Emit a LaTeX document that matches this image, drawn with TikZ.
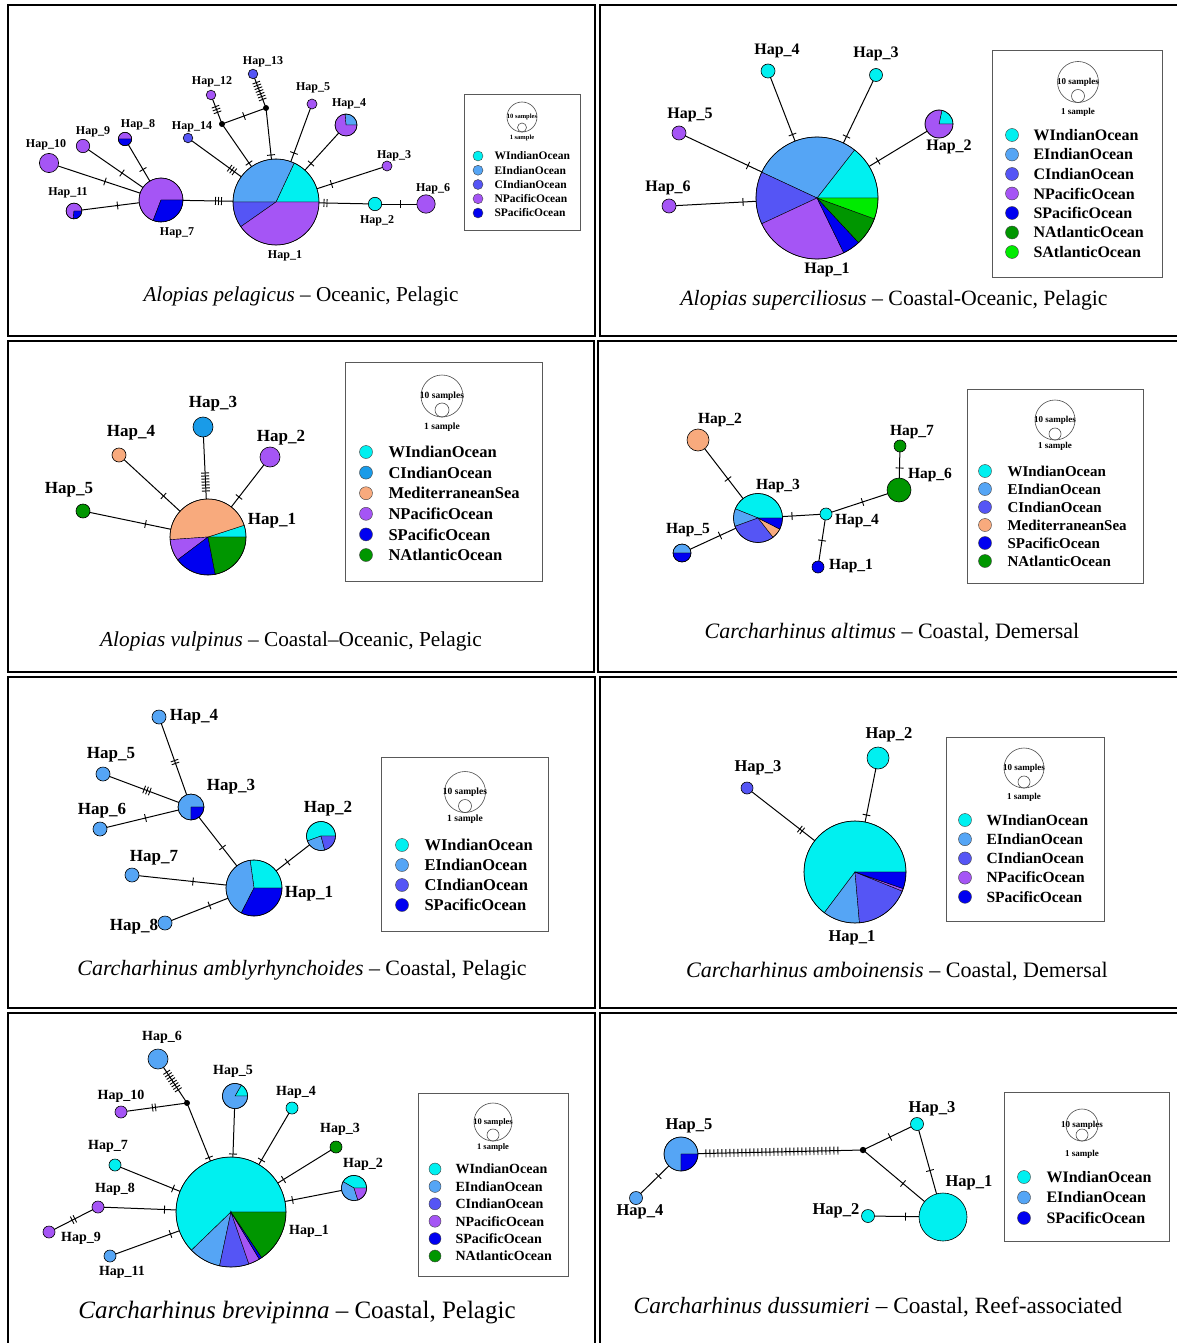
\documentclass[tikz,border=0pt]{standalone}
\usepackage{fontspec}
\setmainfont{Liberation Serif}
\usetikzlibrary{decorations.markings}

\definecolor{wio}{RGB}{0,240,240}
\definecolor{eio}{RGB}{85,165,245}
\definecolor{cio}{RGB}{85,85,245}
\definecolor{cioB}{RGB}{25,155,232}
\definecolor{npo}{RGB}{165,85,245}
\definecolor{spo}{RGB}{0,0,240}
\definecolor{nao}{RGB}{0,150,0}
\definecolor{sao}{RGB}{0,235,0}
\definecolor{med}{RGB}{248,170,125}

\newcommand{\fsz}[1]{\bfseries\fontsize{#1}{#1}\selectfont}
\newcommand{\csz}[1]{\fontsize{#1}{#1}\selectfont}
% pie chart: coordinate, radius, slices from/to/colour (anticlockwise from east)
\newcommand{\hapie}[3]{%
  \foreach \a/\b/\c in {#3}{%
    \filldraw[fill=\c, draw=black, line width=.4pt] (#1) -- ++({-\a}:#2) arc[start angle={-\a}, end angle={-\b}, radius=#2] -- cycle;}
  \draw[line width=.6pt] (#1) circle[radius=#2];}
\newcommand{\hapc}[3]{\filldraw[fill=#3, draw=black, line width=.6pt] (#1) circle[radius=#2];}
% legend: prefix, dot x, text x, first y, step, colour/text list
\newcommand{\haplegend}[6]{%
  \foreach \c/\t [count=\k] in {#6}{%
    \filldraw[fill=\c, draw=black!75, line width=.4pt] (#2,{#4+(\k-1)*#5}) circle[radius=\legr];
    \node[leg, anchor=west] (#1\k) at (#3,{#4+(\k-1)*#5}) {\t};}}
% size key: prefix, x, y, big radius, small radius, y of "1 sample"
\newcommand{\sizekey}[6]{%
  \draw[keyline] (#2,#3) circle[radius=#4];
  \draw[keyline] (#2,{#3+#4-#5}) circle[radius=#5];
  \node[keyf] (#1ten) at (#2,#3) {10 samples};
  \node[keyf] (#1one) at (#2,#6) {1 sample};}

\tikzset{
  edge/.style={line width=1pt},
  tk/.style={postaction={decorate,decoration={markings,mark=at position .5 with {\foreach \k in {1,...,#1}{\draw[line width=.9pt] ({(\k-(#1+1)/2)*3pt},-4pt) -- ++(0,8pt);}}}}},
  tk/.default=1,
  hatch/.style 2 args={postaction={decorate,decoration={markings,mark=between positions #1 and #2 step 4pt with {\draw[line width=.9pt] (0,-4pt) -- (0,4pt);}}}},
  mvdot/.style={fill=black},
  panel/.style={draw=black, line width=1.6pt},
  legbox/.style={draw=black!65, line width=.8pt},
  keyline/.style={draw=black!70, line width=.6pt},
  lbl/.style={font=\fsz{16}, inner sep=0pt},
  leg/.style={font=\fsz{16}, inner sep=0pt},
  keyf/.style={font=\fsz{9}, inner sep=0pt},
  captxt/.style={font=\csz{21}, inner sep=0pt},
}

\begin{document}
\begin{tikzpicture}[x=1pt, y=-1pt]
\useasboundingbox (0,0) rectangle (1177,1343);
\fill[white] (0,0) rectangle (1177,1343);

% frames
\draw[panel] (8,5) rectangle (595,336);
\draw[panel] (600,5) rectangle (1190,336);
\draw[panel] (8,341) rectangle (594,672);
\draw[panel] (598,341) rectangle (1190,672);
\draw[panel] (8,677) rectangle (595,1008);
\draw[panel] (600,677) rectangle (1190,1008);
\draw[panel] (8,1013) rectangle (595,1350);
\draw[panel] (600,1013) rectangle (1190,1350);

% Alopias pelagicus
\begin{scope}[lbl/.style={font=\fsz{12}}, leg/.style={font=\fsz{11.5}}, keyf/.style={font=\fsz{6.5}}]
\def\legr{5}
\coordinate (p1h1) at (276,202);
\coordinate (p1h2) at (375,204);
\coordinate (p1h3) at (387,166);
\coordinate (p1h4) at (346,125);
\coordinate (p1h5) at (312,104);
\coordinate (p1h6) at (426,204);
\coordinate (p1h7) at (161,200);
\coordinate (p1h8) at (125,139);
\coordinate (p1h9) at (83,146);
\coordinate (p1h10) at (49,163);
\coordinate (p1h11) at (74,211);
\coordinate (p1h12) at (211,95);
\coordinate (p1h13) at (253,74);
\coordinate (p1h14) at (188,138);
\coordinate (p1m1) at (222,124);
\coordinate (p1m2) at (266,108);
\draw[edge, tk=3] (p1h7) -- (p1h1);
\draw[edge, tk=2] (p1h1) -- (p1h2);
\draw[edge, tk] (p1h2) -- (p1h6);
\draw[edge, tk] (p1h1) -- (p1h3);
\draw[edge, tk] (p1h1) -- (p1h4);
\draw[edge, tk] (p1h1) -- (p1h5);
\draw[edge, tk] (p1h1) -- (p1m2);
\draw[edge, tk=7] (p1m2) -- (p1h13);
\draw[edge, tk] (p1m2) -- (p1m1);
\draw[edge, tk=3] (p1m1) -- (p1h12);
\draw[edge, tk] (p1m1) -- (p1h1);
\draw[edge, tk=3] (p1h14) -- (p1h1);
\draw[edge, tk] (p1h7) -- (p1h8);
\draw[edge, tk] (p1h7) -- (p1h9);
\draw[edge, tk] (p1h7) -- (p1h10);
\draw[edge, tk] (p1h7) -- (p1h11);
\hapie{p1h1}{43}{0/65/wio, 65/180/eio, 180/215/cio, 215/360/npo}
\hapie{p1h7}{22}{0/249/npo, 249/360/spo}
\hapie{p1h4}{11}{0/95/eio, 95/360/npo}
\hapie{p1h8}{6.7}{0/180/npo, 180/360/spo}
\hapie{p1h11}{7.9}{0/265/npo, 265/360/spo}
\hapc{p1h2}{6.7}{wio}
\hapc{p1h3}{5}{npo}
\hapc{p1h5}{5}{npo}
\hapc{p1h6}{9.2}{npo}
\hapc{p1h9}{6.7}{npo}
\hapc{p1h10}{9.6}{npo}
\hapc{p1h12}{4.8}{npo}
\hapc{p1h13}{4.8}{cio}
\hapc{p1h14}{4.8}{cio}
\fill[mvdot] (p1m1) circle[radius=3];
\fill[mvdot] (p1m2) circle[radius=3];
\node[lbl] (p1l1) at (285,256) {Hap\_1};
\node[lbl] (p1l2) at (377,221) {Hap\_2};
\node[lbl] (p1l3) at (394,156) {Hap\_3};
\node[lbl] (p1l4) at (349,104) {Hap\_4};
\node[lbl] (p1l5) at (313,88) {Hap\_5};
\node[lbl] (p1l6) at (433,189) {Hap\_6};
\node[lbl] (p1l7) at (177,233) {Hap\_7};
\node[lbl] (p1l8) at (138,125) {Hap\_8};
\node[lbl] (p1l9) at (93,132) {Hap\_9};
\node[lbl] (p1l10) at (46,145) {Hap\_10};
\node[lbl] (p1l11) at (68,193) {Hap\_11};
\node[lbl] (p1l12) at (212,82) {Hap\_12};
\node[lbl] (p1l13) at (263,62) {Hap\_13};
\node[lbl] (p1l14) at (192,127) {Hap\_14};
\draw[legbox] (464,94) rectangle (580,230);
\sizekey{p1}{522}{117}{15}{4.5}{138}
\haplegend{p1e}{478}{491}{156}{14.25}{wio/WIndianOcean, eio/EIndianOcean, cio/CIndianOcean, npo/NPacificOcean, spo/SPacificOcean}
\node[captxt, font=\csz{21.2}] (p1cap) at (301,296) {\textit{Alopias pelagicus} – Oceanic, Pelagic};
\end{scope}

% Alopias superciliosus
\begin{scope}[lbl/.style={font=\fsz{16}}, leg/.style={font=\fsz{16}}, keyf/.style={font=\fsz{9}}]
\def\legr{6.5}
\coordinate (p2h1) at (817,198);
\coordinate (p2h2) at (939,124);
\coordinate (p2h3) at (876,75);
\coordinate (p2h4) at (768,71);
\coordinate (p2h5) at (679,133);
\coordinate (p2h6) at (669,206);
\draw[edge, tk] (p2h1) -- (p2h2);
\draw[edge, tk] (p2h1) -- (p2h3);
\draw[edge, tk] (p2h1) -- (p2h4);
\draw[edge, tk] (p2h1) -- (p2h5);
\draw[edge, tk] (p2h1) -- (p2h6);
\hapie{p2h1}{61}{0/52/wio, 52/155/eio, 155/205/cio, 205/296/npo, 296/313/spo, 313/340/nao, 340/360/sao}
\hapie{p2h2}{14}{0/78/wio, 78/360/npo}
\hapc{p2h3}{6.5}{wio}
\hapc{p2h4}{7}{wio}
\hapc{p2h5}{7}{npo}
\hapc{p2h6}{7}{npo}
\node[lbl] (p2l1) at (827,270) {Hap\_1};
\node[lbl] (p2l2) at (949,147) {Hap\_2};
\node[lbl] (p2l3) at (876,54) {Hap\_3};
\node[lbl] (p2l4) at (777,51) {Hap\_4};
\node[lbl] (p2l5) at (690,115) {Hap\_5};
\node[lbl] (p2l6) at (668,188) {Hap\_6};
\draw[legbox] (992,50) rectangle (1162,277);
\sizekey{p2}{1078}{82}{20.5}{6.5}{112}
\haplegend{p2e}{1012}{1030}{135}{19.5}{wio/WIndianOcean, eio/EIndianOcean, cio/CIndianOcean, npo/NPacificOcean, spo/SPacificOcean, nao/NAtlanticOcean, sao/SAtlanticOcean}
\node[captxt, font=\csz{21.8}] (p2cap) at (894,300) {\textit{Alopias superciliosus} – Coastal-Oceanic, Pelagic};
\end{scope}

% Alopias vulpinus
\begin{scope}[lbl/.style={font=\fsz{17}}, leg/.style={font=\fsz{16.5}}, keyf/.style={font=\fsz{9.5}}]
\def\legr{6.5}
\coordinate (p3h1) at (208,537);
\coordinate (p3h2) at (270,457);
\coordinate (p3h3) at (203,427);
\coordinate (p3h4) at (119,455);
\coordinate (p3h5) at (83,511);
\draw[edge, tk=7] (p3h3) -- (p3h1);
\draw[edge, tk] (p3h4) -- (p3h1);
\draw[edge, tk] (p3h2) -- (p3h1);
\draw[edge, tk] (p3h5) -- (p3h1);
\hapie{p3h1}{38}{0/18/wio, 18/184/med, 184/217/npo, 217/281/spo, 281/360/nao}
\hapc{p3h2}{10}{npo}
\hapc{p3h3}{10}{cioB}
\hapc{p3h4}{7}{med}
\hapc{p3h5}{7}{nao}
\node[lbl] (p3l1) at (272,521) {Hap\_1};
\node[lbl] (p3l2) at (281,438) {Hap\_2};
\node[lbl] (p3l3) at (213,404) {Hap\_3};
\node[lbl] (p3l4) at (131,433) {Hap\_4};
\node[lbl] (p3l5) at (69,490) {Hap\_5};
\draw[legbox] (345,362) rectangle (542,581);
\sizekey{p3}{442}{396}{21}{7}{427}
\haplegend{p3e}{366}{385}{452}{20.6}{wio/WIndianOcean, cioB/CIndianOcean, med/MediterraneanSea, npo/NPacificOcean, spo/SPacificOcean, nao/NAtlanticOcean}
\node[captxt, font=\csz{21.3}] (p3cap) at (291,641) {\textit{Alopias vulpinus} – Coastal–Oceanic, Pelagic};
\end{scope}

% Carcharhinus altimus
\begin{scope}[lbl/.style={font=\fsz{15.5}}, leg/.style={font=\fsz{15}}, keyf/.style={font=\fsz{9}}]
\def\legr{6.5}
\coordinate (p4h1) at (818,567);
\coordinate (p4h2) at (698,440);
\coordinate (p4h3) at (758,518);
\coordinate (p4h4) at (826,514);
\coordinate (p4h5) at (682,553);
\coordinate (p4h6) at (899,490);
\coordinate (p4h7) at (900,446);
\draw[edge, tk] (p4h2) -- (p4h3);
\draw[edge, tk] (p4h3) -- (p4h4);
\draw[edge, tk] (p4h5) -- (p4h3);
\draw[edge, tk] (p4h4) -- (p4h6);
\draw[edge, tk] (p4h7) -- (p4h6);
\draw[edge, tk] (p4h4) -- (p4h1);
\hapie{p4h3}{24.5}{0/158/wio, 158/200/eio, 200/308/cio, 308/333/med, 333/360/spo}
\hapie{p4h5}{9}{0/180/eio, 180/360/spo}
\hapc{p4h1}{6}{spo}
\hapc{p4h2}{11}{med}
\hapc{p4h4}{6}{wio}
\hapc{p4h6}{12}{nao}
\hapc{p4h7}{6}{nao}
\node[lbl] (p4l1) at (851,566) {Hap\_1};
\node[lbl] (p4l2) at (720,420) {Hap\_2};
\node[lbl] (p4l3) at (778,486) {Hap\_3};
\node[lbl] (p4l4) at (857,521) {Hap\_4};
\node[lbl] (p4l5) at (688,530) {Hap\_5};
\node[lbl] (p4l6) at (930,475) {Hap\_6};
\node[lbl] (p4l7) at (912,432) {Hap\_7};
\draw[legbox] (967,389) rectangle (1143,583);
\sizekey{p4}{1055}{420}{20}{6}{446}
\haplegend{p4e}{985}{1004}{471}{18}{wio/WIndianOcean, eio/EIndianOcean, cio/CIndianOcean, med/MediterraneanSea, spo/SPacificOcean, nao/NAtlanticOcean}
\node[captxt, font=\csz{22}] (p4cap) at (892,633) {\textit{Carcharhinus altimus} – Coastal, Demersal};
\end{scope}

% Carcharhinus amblyrhynchoides
\begin{scope}[lbl/.style={font=\fsz{17}}, leg/.style={font=\fsz{16.5}}, keyf/.style={font=\fsz{9.5}}]
\def\legr{6.5}
\coordinate (p5h1) at (254,888);
\coordinate (p5h2) at (321,836);
\coordinate (p5h3) at (191,807);
\coordinate (p5h4) at (159,717);
\coordinate (p5h5) at (103,774);
\coordinate (p5h6) at (100,829);
\coordinate (p5h7) at (132,875);
\coordinate (p5h8) at (165,923);
\draw[edge, tk=2] (p5h4) -- (p5h3);
\draw[edge, tk=3] (p5h5) -- (p5h3);
\draw[edge, tk] (p5h6) -- (p5h3);
\draw[edge, tk] (p5h3) -- (p5h1);
\draw[edge, tk] (p5h2) -- (p5h1);
\draw[edge, tk] (p5h7) -- (p5h1);
\draw[edge, tk] (p5h8) -- (p5h1);
\hapie{p5h1}{28}{0/98/wio, 98/243/eio, 243/360/spo}
\hapie{p5h2}{14.5}{0/200/wio, 200/285/eio, 285/360/cio}
\hapie{p5h3}{13}{0/270/eio, 270/360/spo}
\hapc{p5h4}{7}{eio}
\hapc{p5h5}{7}{eio}
\hapc{p5h6}{7}{eio}
\hapc{p5h7}{7}{eio}
\hapc{p5h8}{7}{eio}
\node[lbl] (p5l1) at (309,894) {Hap\_1};
\node[lbl] (p5l2) at (328,809) {Hap\_2};
\node[lbl] (p5l3) at (231,787) {Hap\_3};
\node[lbl] (p5l4) at (194,717) {Hap\_4};
\node[lbl] (p5l5) at (111,755) {Hap\_5};
\node[lbl] (p5l6) at (102,811) {Hap\_6};
\node[lbl] (p5l7) at (154,858) {Hap\_7};
\node[lbl] (p5l8) at (134,927) {Hap\_8};
\draw[legbox] (381,757) rectangle (548,931);
\sizekey{p5}{465}{792}{20.5}{6.5}{819}
\haplegend{p5e}{402}{421}{845}{20}{wio/WIndianOcean, eio/EIndianOcean, cio/CIndianOcean, spo/SPacificOcean}
\node[captxt, font=\csz{21.9}] (p5cap) at (302,970) {\textit{Carcharhinus amblyrhynchoides} – Coastal, Pelagic};
\end{scope}

% Carcharhinus amboinensis
\begin{scope}[lbl/.style={font=\fsz{16.5}}, leg/.style={font=\fsz{15.5}}, keyf/.style={font=\fsz{9}}]
\def\legr{6.5}
\coordinate (p6h1) at (855,872);
\coordinate (p6h2) at (878,758);
\coordinate (p6h3) at (747,788);
\draw[edge, tk] (p6h2) -- (p6h1);
\draw[edge, tk=2] (p6h3) -- (p6h1);
\hapie{p6h1}{51}{0/233/wio, 233/275/eio, 275/338/cio, 338/341/npo, 341/360/spo}
\hapc{p6h2}{11}{wio}
\hapc{p6h3}{6}{cio}
\node[lbl] (p6l1) at (852,938) {Hap\_1};
\node[lbl] (p6l2) at (889,735) {Hap\_2};
\node[lbl] (p6l3) at (758,768) {Hap\_3};
\draw[legbox] (946,737) rectangle (1104,921);
\sizekey{p6}{1024}{768}{20}{6}{797}
\haplegend{p6e}{965}{983}{820}{19.2}{wio/WIndianOcean, eio/EIndianOcean, cio/CIndianOcean, npo/NPacificOcean, spo/SPacificOcean}
\node[captxt, font=\csz{22.1}] (p6cap) at (897,972) {\textit{Carcharhinus amboinensis} – Coastal, Demersal};
\end{scope}

% Carcharhinus brevipinna
\begin{scope}[lbl/.style={font=\fsz{14}}, leg/.style={font=\fsz{14}}, keyf/.style={font=\fsz{8.5}}]
\def\legr{6}
\coordinate (p7h1) at (231,1212);
\coordinate (p7h2) at (354,1188);
\coordinate (p7h3) at (336,1147);
\coordinate (p7h4) at (292,1108);
\coordinate (p7h5) at (235,1096);
\coordinate (p7h6) at (158,1059);
\coordinate (p7h7) at (115,1165);
\coordinate (p7h8) at (98,1207);
\coordinate (p7h9) at (49,1232);
\coordinate (p7h10) at (121,1112);
\coordinate (p7h11) at (110,1256);
\coordinate (p7m1) at (187,1103);
\draw[edge, tk=8] (p7h6) -- (p7m1);
\draw[edge, tk=2] (p7h10) -- (p7m1);
\draw[edge, tk] (p7m1) -- (p7h1);
\draw[edge, tk] (p7h5) -- (p7h1);
\draw[edge, tk] (p7h4) -- (p7h1);
\draw[edge, tk] (p7h3) -- (p7h1);
\draw[edge, tk] (p7h2) -- (p7h1);
\draw[edge, tk] (p7h7) -- (p7h1);
\draw[edge, tk] (p7h8) -- (p7h1);
\draw[edge, tk=2] (p7h9) -- (p7h8);
\draw[edge, tk] (p7h11) -- (p7h1);
\hapie{p7h1}{55}{0/224/wio, 224/258/eio, 258/289/cio, 289/301/npo, 301/304/spo, 304/360/nao}
\hapie{p7h2}{12.7}{0/150/wio, 150/288/eio, 288/360/npo}
\hapie{p7h5}{12.7}{0/60/wio, 60/360/eio}
\hapc{p7h3}{6}{nao}
\hapc{p7h4}{6}{wio}
\hapc{p7h6}{10}{eio}
\hapc{p7h7}{6}{wio}
\hapc{p7h8}{6}{npo}
\hapc{p7h9}{6}{npo}
\hapc{p7h10}{6}{npo}
\hapc{p7h11}{6}{eio}
\fill[mvdot] (p7m1) circle[radius=3];
\node[lbl] (p7l1) at (309,1231) {Hap\_1};
\node[lbl] (p7l2) at (363,1164) {Hap\_2};
\node[lbl] (p7l3) at (340,1129) {Hap\_3};
\node[lbl] (p7l4) at (296,1092) {Hap\_4};
\node[lbl] (p7l5) at (233,1071) {Hap\_5};
\node[lbl] (p7l6) at (162,1037) {Hap\_6};
\node[lbl] (p7l7) at (108,1146) {Hap\_7};
\node[lbl] (p7l8) at (115,1189) {Hap\_8};
\node[lbl] (p7l9) at (81,1238) {Hap\_9};
\node[lbl] (p7l10) at (121,1096) {Hap\_10};
\node[lbl] (p7l11) at (122,1272) {Hap\_11};
\draw[legbox] (418,1093) rectangle (568,1276);
\sizekey{p7}{493}{1122}{19}{6}{1147}
\haplegend{p7e}{435}{452}{1169}{17.4}{wio/WIndianOcean, eio/EIndianOcean, cio/CIndianOcean, npo/NPacificOcean, spo/SPacificOcean, nao/NAtlanticOcean}
\node[captxt, font=\csz{25}] (p7cap) at (297,1313) {\textit{Carcharhinus brevipinna} – Coastal, Pelagic};
\end{scope}

% Carcharhinus dussumieri
\begin{scope}[lbl/.style={font=\fsz{16.5}}, leg/.style={font=\fsz{16}}, keyf/.style={font=\fsz{9}}]
\def\legr{6.5}
\coordinate (p8h1) at (943,1217);
\coordinate (p8h2) at (868,1216);
\coordinate (p8h3) at (917,1124);
\coordinate (p8h4) at (636,1198);
\coordinate (p8h5) at (681,1154);
\coordinate (p8m1) at (863,1150);
\draw[edge, hatch={.137}{.88}] (p8h5) -- (p8m1);
\draw[edge, tk] (p8m1) -- (p8h3);
\draw[edge, tk] (p8m1) -- (p8h1);
\draw[edge, tk] (p8h3) -- (p8h1);
\draw[edge, tk] (p8h2) -- (p8h1);
\draw[edge, tk] (p8h4) -- (p8h5);
\hapie{p8h5}{17}{0/270/eio, 270/360/spo}
\hapc{p8h1}{24}{wio}
\hapc{p8h2}{6.5}{wio}
\hapc{p8h3}{6.5}{wio}
\hapc{p8h4}{6.5}{eio}
\fill[mvdot] (p8m1) circle[radius=3.2];
\node[lbl] (p8l1) at (969,1183) {Hap\_1};
\node[lbl] (p8l2) at (836,1211) {Hap\_2};
\node[lbl] (p8l3) at (932,1109) {Hap\_3};
\node[lbl] (p8l4) at (640,1212) {Hap\_4};
\node[lbl] (p8l5) at (689,1126) {Hap\_5};
\draw[legbox] (1004,1092) rectangle (1169,1241);
\sizekey{p8}{1082}{1125}{16}{6}{1154}
\haplegend{p8e}{1024}{1043}{1177}{20.5}{wio/WIndianOcean, eio/EIndianOcean, spo/SPacificOcean}
\node[captxt, font=\csz{23.3}] (p8cap) at (878,1307) {\textit{Carcharhinus dussumieri} – Coastal, Reef-associated};
\end{scope}
\end{tikzpicture}
\end{document}
